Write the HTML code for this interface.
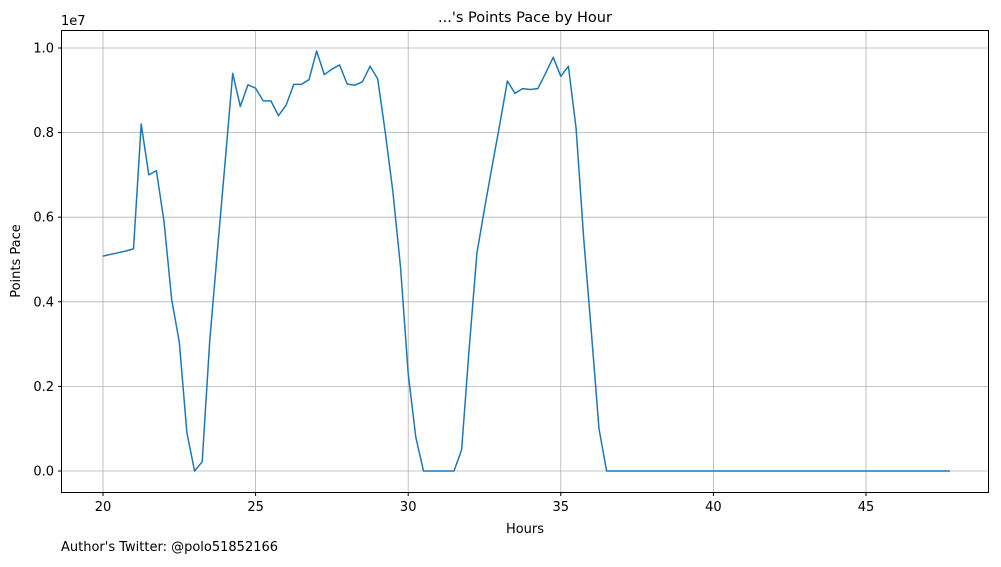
<!DOCTYPE html>
<html><head><meta charset="utf-8"><style>
body{margin:0;background:#fff}
svg{font-family:"DejaVu Sans","Liberation Sans",sans-serif}
</style></head><body>
<svg id="chart" width="1001" height="562" xmlns="http://www.w3.org/2000/svg">
<rect width="1001" height="562" fill="#fff"/>
<g id="grid"></g>
<g id="series"></g>
<rect x="61.5" y="30.5" width="927" height="462" fill="none" stroke="#000" stroke-width="1"/>
<g id="ticks"></g>
<text x="525" y="22" text-anchor="middle" font-size="14.5">...'s Points Pace by Hour</text>
<text x="525" y="533" text-anchor="middle" font-size="13">Hours</text>
<text x="20" y="261" text-anchor="middle" font-size="13" transform="rotate(-90 20 261)">Points Pace</text>
<text x="61" y="25" font-size="13">1e7</text>
<text x="61" y="551" font-size="13">Author's Twitter: @polo51852166</text>
</svg>
<script>
const xTicks=[20,25,30,35,40,45];
const yTicks=[0,0.2,0.4,0.6,0.8,1.0];
const yTickLabels=["0.0","0.2","0.4","0.6","0.8","1.0"];
const hoursStart=20, hoursStep=0.25;
const pace=[5.08,5.12,5.16,5.2,5.25,8.2,7.0,7.1,5.9,4.05,3.05,0.9,0.0,0.22,3.1,5.2,7.3,9.4,8.62,9.13,9.05,8.75,8.75,8.4,8.65,9.14,9.14,9.25,9.93,9.37,9.5,9.6,9.15,9.12,9.2,9.57,9.27,8.0,6.6,4.8,2.3,0.8,0,0,0,0,0,0.5,2.9,5.15,6.2,7.2,8.2,9.22,8.93,9.04,9.02,9.04,9.4,9.78,9.33,9.57,8.1,5.5,3.3,1.0,0,0,0,0,0,0,0,0,0,0,0,0,0,0,0,0,0,0,0,0,0,0,0,0,0,0,0,0,0,0,0,0,0,0,0,0,0,0,0,0,0,0,0,0,0,0];
const X=h=>103+(h-20)*30.52;
const Y=v=>471-v*42.3;
const NS="http://www.w3.org/2000/svg";
function mk(t,a,p){const e=document.createElementNS(NS,t);for(const k in a)e.setAttribute(k,a[k]);p.appendChild(e);return e;}
const grid=document.getElementById('grid'),ticks=document.getElementById('ticks'),series=document.getElementById('series');
xTicks.forEach(t=>{const x=X(t);
const g=mk('line',{x1:x,x2:x,y1:30.5,y2:492.5,stroke:'#b0b0b0','stroke-width':0.8},grid);

const l=mk('line',{x1:x,x2:x,y1:492.5,y2:496,stroke:'#000'},ticks);

const tx=mk('text',{x:x,y:511,'text-anchor':'middle','font-size':13},ticks);tx.textContent=t;
});
yTicks.forEach((t,i)=>{const y=Y(t*10);
const g=mk('line',{x1:61.5,x2:988.5,y1:y,y2:y,stroke:'#b0b0b0','stroke-width':0.8},grid);

const l=mk('line',{x1:58,x2:61.5,y1:y,y2:y,stroke:'#000'},ticks);

const tx=mk('text',{x:54,y:y+4.5,'text-anchor':'end','font-size':13},ticks);tx.textContent=yTickLabels[i];
});
const pts=pace.map((v,i)=>X(hoursStart+i*hoursStep).toFixed(1)+','+Y(v).toFixed(1)).join(' ');
const pl=mk('polyline',{points:pts,fill:'none',stroke:'#1f77b4','stroke-width':1.5,'stroke-linejoin':'round'},series);


</script>
</body></html>
